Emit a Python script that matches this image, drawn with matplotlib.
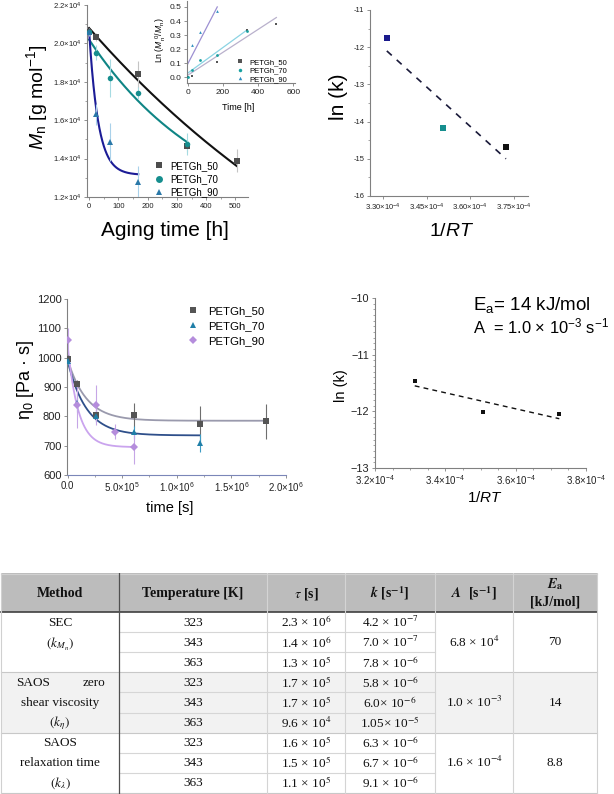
import numpy as np
import matplotlib
matplotlib.use("Agg")
import matplotlib.pyplot as plt
from matplotlib.ticker import FuncFormatter, MultipleLocator, AutoMinorLocator
from matplotlib.lines import Line2D
from matplotlib.patches import Rectangle

W, H = 614, 794

# ---- (a) Mn vs aging time ----
mn_t50 = [0, 24, 168, 336, 504]
mn_50 = [20600, 20350, 18400, 14660, 13880]
mn_e50 = [200, 200, 700, 300, 600]
mn_t70 = [0, 24, 72, 168, 336]
mn_70 = [20570, 19510, 18200, 17430, 14780]
mn_e70 = [150, 400, 1000, 300, 570]
mn_t90 = [0, 24, 72, 168]
mn_90 = [20600, 16300, 14870, 12800]
mn_e90 = [150, 550, 1000, 800]
# fit: Mn = Minf + A exp(-k t), drawn up to t_end
fit_mn50 = (0, 20800, 8.4e-4, 504)
fit_mn70 = (10450, 9750, 2.37e-3, 336)
fit_mn90 = (13150, 7550, 0.032, 168)

# inset: ln(Mn0/Mn) vs time
ins_t50 = [0, 24, 168, 336, 504]
ins_50 = [0.0, 0.01, 0.11, 0.335, 0.38]
ins_t70 = [0, 24, 72, 168, 336]
ins_70 = [0.0, 0.05, 0.12, 0.16, 0.33]
ins_t90 = [24, 72, 168]
ins_90 = [0.23, 0.32, 0.47]
# linear fits: intercept, slope, t_end
ins_fit50 = (0.015, 0.000813, 504)
ins_fit70 = (0.03, 0.000908, 336)
ins_fit90 = (0.095, 0.00241, 168)

# ---- Arrhenius plots ----
inv_rt = [3.313e-4, 3.507e-4, 3.724e-4]
lnk_sec = [-11.76, -14.16, -14.68]
lnk_sec_fit = [-12.1, -15.0]
lnk_eta = [-11.46, -12.02, -12.05]
lnk_eta_fit = [-11.55, -12.13]

# ---- (c) zero shear viscosity vs time ----
eta_t50 = [0, 86400, 259200, 604800, 1209600, 1814400]
eta_50 = [995, 910, 805, 803, 774, 783]
eta_e50 = [15, 15, 20, 43, 60, 60]
eta_t70 = [0, 86400, 259200, 604800, 1209600]
eta_70 = [990, 847, 800, 745, 710]
eta_e70 = [15, 33, 20, 22, 30]
eta_t90 = [0, 86400, 259200, 432000, 604800]
eta_90 = [1060, 840, 838, 748, 694]
eta_e90 = [40, 80, 68, 25, 55]
# fit: eta = einf + A exp(-t/tau), drawn up to t_end
fit_eta50 = (785, 210, 1.7e5, 1814400)
fit_eta70 = (735, 255, 1.7e5, 1209600)
fit_eta90 = (695, 350, 9.6e4, 604800)

# ---- table ----
tab_header = ["Method", "Temperature [K]", r"$\tau$ [s]", r"$\mathbfit{k}$ [s$^{\mathbf{-1}}$]",
              r"$\mathbfit{A}$  [s$^{\mathbf{-1}}$]", r"$\mathbfit{E}_{\mathbf{a}}$"]
tab_method = [["SEC", r"$(k_{M_n})$"],
              [("SAOS", "zero"), "shear viscosity", r"$(k_\eta)$"],
              ["SAOS", "relaxation time", r"$(k_\lambda)$"]]
tab_temp = ["323", "343", "363", "323", "343", "363", "323", "343", "363"]
tab_tau = [r"2.3 × 10$^{6}$", r"1.4 × 10$^{6}$", r"1.3 × 10$^{5}$",
           r"1.7 × 10$^{5}$", r"1.7 × 10$^{5}$", r"9.6 × 10$^{4}$",
           r"1.6 × 10$^{5}$", r"1.5 × 10$^{5}$", r"1.1 × 10$^{5}$"]
tab_k = [r"4.2 × 10$^{-7}$", r"7.0 × 10$^{-7}$", r"7.8 × 10$^{-6}$",
         r"5.8 × 10$^{-6}$", r"6.0× 10$^{-6}$", r"1.05× 10$^{-5}$",
         r"6.3 × 10$^{-6}$", r"6.7 × 10$^{-6}$", r"9.1 × 10$^{-6}$"]
tab_A = [r"6.8 × 10$^{4}$", r"1.0 × 10$^{-3}$", r"1.6 × 10$^{-4}$"]
tab_Ea = ["70", "14", "8.8"]

plt.rcParams.update({
    "font.family": "Liberation Sans",
    "mathtext.fontset": "custom",
    "mathtext.rm": "Liberation Sans",
    "mathtext.it": "Liberation Sans:italic",
    "mathtext.bf": "Liberation Sans:bold",
})

GRAY = "#808080"


def px_box(l, t, r, b):
    return [l / W, 1 - b / H, (r - l) / W, (b - t) / H]


def fig_text(x, y, s, **kw):
    fig.text(x / W, 1 - y / H, s, ha=kw.pop("ha", "center"), va=kw.pop("va", "center"), **kw)


def style_axes(ax, labelsize, spine_color=GRAY):
    for side in ("top", "right"):
        ax.spines[side].set_visible(False)
    for side in ("left", "bottom"):
        ax.spines[side].set_color(spine_color)
        ax.spines[side].set_linewidth(0.8)
    ax.tick_params(which="major", direction="out", length=2.5, width=0.6, color=GRAY,
                   labelsize=labelsize, pad=1.5, labelcolor="#222222")
    ax.tick_params(which="minor", direction="out", length=1.5, width=0.5, color=GRAY)
    ax.set_facecolor("none")


def sci_fmt(exp, dec):
    def f(v, pos):
        return rf"${v / 10 ** exp:.{dec}f}{{\times}}10^{{{exp}}}$"
    return FuncFormatter(f)


def auto_sci(v, pos):
    if abs(v) < 1:
        return "0.0"
    e = int(np.floor(np.log10(abs(v))))
    return rf"${v / 10 ** e:.1f}{{\times}}10^{{{e}}}$"


fig = plt.figure(figsize=(W / 100, H / 100), dpi=100)

# ================= panel (a) =================
ax1 = fig.add_axes(px_box(87, 5, 248, 197))
series_a = [
    (mn_t50, mn_50, mn_e50, fit_mn50, "s", "#4d4d4d", "#c4c4c4", "#111111", "PETGh_50"),
    (mn_t70, mn_70, mn_e70, fit_mn70, "o", "#168e8e", "#a6dbe2", "#0f8585", "PETGh_70"),
    (mn_t90, mn_90, mn_e90, fit_mn90, "^", "#2a78a8", "#a9d1ea", "#1c1c96", "PETGh_90"),
]
handles = []
for t, y, e, fit, mk, col, ecol, lcol, lab in series_a:
    minf, amp, k, tend = fit
    tt = np.linspace(0, tend, 300)
    ax1.plot(tt, minf + amp * np.exp(-k * tt), color=lcol, lw=1.5, zorder=2)
    ax1.errorbar(t, y, yerr=e, fmt=mk, ms=4, color=col, ecolor=ecol, elinewidth=0.8,
                 capsize=1.5, capthick=0.6, mew=0, zorder=3)
    handles.append(Line2D([], [], ls="none", marker=mk, ms=5, color=col, mew=0, label=lab))
ax1.set_xlim(-7, 543)
ax1.set_ylim(12000, 22000)
ax1.xaxis.set_major_locator(MultipleLocator(100))
ax1.xaxis.set_minor_locator(MultipleLocator(50))
ax1.yaxis.set_major_locator(MultipleLocator(2000))
ax1.yaxis.set_minor_locator(MultipleLocator(1000))
ax1.yaxis.set_major_formatter(sci_fmt(4, 1))
style_axes(ax1, 5.5)
ax1.legend(handles=handles, loc="lower left", bbox_to_anchor=(0.385, -0.028), frameon=False,
           fontsize=7, handlelength=1.0, handletextpad=0.7, labelspacing=0.35, borderpad=0)
fig_text(37, 97, r"$M_\mathrm{n}$ [g mol$^{-1}$]", fontsize=14, rotation=90)
fig_text(165, 231, "Aging time [h]", fontsize=15)

# inset
axi = fig.add_axes(px_box(187, 1, 295, 83))
series_i = [
    (ins_t50, ins_50, ins_fit50, "s", "#555555", "#b9b1cc", "PETGh_50"),
    (ins_t70, ins_70, ins_fit70, "o", "#17a0a0", "#8bd3e3", "PETGh_70"),
    (ins_t90, ins_90, ins_fit90, "^", "#2f8fc0", "#9d90d2", "PETGh_90"),
]
ih = []
for t, y, fit, mk, col, lcol, lab in series_i:
    b0, slope, tend = fit
    tt = np.array([0, tend])
    axi.plot(tt, b0 + slope * tt, color=lcol, lw=0.9, zorder=2)
    axi.plot(t, y, ls="none", marker=mk, ms=2, color=col, mew=0, zorder=3)
    ih.append(Line2D([], [], ls="none", marker=mk, ms=2.5, color=col, mew=0, label=lab))
axi.set_xlim(-4, 610)
axi.set_ylim(-0.04, 0.542)
axi.xaxis.set_major_locator(MultipleLocator(200))
axi.yaxis.set_major_locator(MultipleLocator(0.1))
style_axes(axi, 6.0)
axi.legend(handles=ih, loc="lower left", bbox_to_anchor=(0.43, -0.045), frameon=False,
           fontsize=5.5, handlelength=0.8, handletextpad=0.8, labelspacing=0.15, borderpad=0)
fig_text(161, 40, r"Ln ($M_\mathrm{n}^{\ 0}$/$M_\mathrm{n}$)", fontsize=6.2, rotation=90)
fig_text(238, 108, "Time [h]", fontsize=6.5)

# ================= panel (b) =================
ax2 = fig.add_axes(px_box(370, 10, 528, 196))
ax2.plot([inv_rt[0], inv_rt[2]], lnk_sec_fit, color="#1a1a3a", lw=1.2, dashes=(4, 4), zorder=2)
for x, y, c in zip(inv_rt, lnk_sec, ["#1a1a8c", "#168e8e", "#111111"]):
    ax2.plot(x, y, ls="none", marker="s", ms=4.5, color=c, mew=0, zorder=3)
ax2.set_xlim(3.255e-4, 3.80e-4)
ax2.set_ylim(-16, -11)
ax2.set_xticks([3.30e-4, 3.45e-4, 3.60e-4, 3.75e-4])
ax2.xaxis.set_major_formatter(sci_fmt(-4, 2))
ax2.yaxis.set_major_locator(MultipleLocator(1))
ax2.yaxis.set_minor_locator(MultipleLocator(0.5))
ax2.yaxis.set_major_formatter(FuncFormatter(lambda v, p: f"{v:.0f}"))
style_axes(ax2, 5.5)
fig_text(338, 97, "ln (k)", fontsize=15, rotation=90)
fig_text(452, 231, "1/$RT$", fontsize=14)

# ================= panel (c) =================
ax3 = fig.add_axes(px_box(67, 299, 286, 475))
series_c = [
    (eta_t50, eta_50, eta_e50, fit_eta50, "s", "#555555", "#6e6e6e", "#9a9aad", "PETGh_50"),
    (eta_t70, eta_70, eta_e70, fit_eta70, "^", "#1f7fa8", "#3e9cc4", "#2e4f8a", "PETGh_70"),
    (eta_t90, eta_90, eta_e90, fit_eta90, "D", "#b58ddc", "#c6a6e6", "#caa4ee", "PETGh_90"),
]
h3 = []
for t, y, e, fit, mk, col, ecol, lcol, lab in series_c:
    einf, amp, tau, tend = fit
    tt = np.linspace(0, tend, 300)
    ax3.plot(tt, einf + amp * np.exp(-tt / tau), color=lcol, lw=1.3, zorder=2)
    ax3.errorbar(t, y, yerr=e, fmt=mk, ms=4 if mk != "D" else 3.6, color=col, ecolor=ecol,
                 elinewidth=0.8, capsize=1.8, capthick=0.7, mew=0, zorder=3)
    h3.append(Line2D([], [], ls="none", marker=mk, ms=5 if mk != "D" else 4.5, color=col, mew=0, label=lab))
ax3.set_xlim(-5e3, 2.0e6)
ax3.set_ylim(600, 1200)
ax3.set_xticks([0, 5e5, 1e6, 1.5e6, 2e6])
ax3.xaxis.set_minor_locator(MultipleLocator(2.5e5))
ax3.yaxis.set_major_locator(MultipleLocator(100))
ax3.xaxis.set_major_formatter(FuncFormatter(auto_sci))
style_axes(ax3, 8)
ax3.tick_params(axis="x", labelsize=7)
ax3.spines["bottom"].set_color("#7b86b8")
ax3.legend(handles=h3, loc="upper left", bbox_to_anchor=(0.523, 0.99), frameon=False,
           fontsize=8.2, handlelength=1.0, handletextpad=0.8, labelspacing=0.42, borderpad=0)
fig_text(25, 380, r"η$_0$ [Pa · s]", fontsize=13, rotation=90)
fig_text(170, 508, "time [s]", fontsize=10.5)

# ================= panel (d) =================
ax4 = fig.add_axes(px_box(375, 298, 586, 468))
ax4.plot([inv_rt[0], inv_rt[2]], lnk_eta_fit, color="#111111", lw=1.0, dashes=(3.5, 3), zorder=2)
ax4.plot(inv_rt, lnk_eta, ls="none", marker="s", ms=3.2, color="#111111", mew=0, zorder=3)
ax4.set_xlim(3.2e-4, 3.8e-4)
ax4.set_ylim(-13, -10)
ax4.set_xticks([3.2e-4, 3.4e-4, 3.6e-4, 3.8e-4])
ax4.xaxis.set_minor_locator(AutoMinorLocator(4))
ax4.yaxis.set_major_locator(MultipleLocator(1))
ax4.yaxis.set_minor_locator(AutoMinorLocator(10))
ax4.xaxis.set_major_formatter(sci_fmt(-4, 1))
ax4.yaxis.set_major_formatter(FuncFormatter(lambda v, p: f"{v:.0f}".replace("-", "\u2212")))
style_axes(ax4, 7.8)
ax4.tick_params(axis="x", labelsize=7)
fig_text(473, 305, r"E$_\mathrm{a}$= 14 kJ/mol", fontsize=13.5, ha="left")
fig_text(473, 326, r"A  = 1.0 × 10$^{-3}$ s$^{-1}$", fontsize=11.9, ha="left")
fig_text(341, 386, "ln (k)", fontsize=10.5, rotation=90)
fig_text(485, 498, "1/$RT$", fontsize=11)

# ================= table =================
axt = fig.add_axes(px_box(0, 573, 614, 794))
axt.set_xlim(0, W)
axt.set_ylim(221, 0)
axt.axis("off")
cols = [1, 119, 267, 345, 435, 513, 597]
hdr_h = 39
row_h = (220 - hdr_h) / 9
row_top = [hdr_h + i * row_h for i in range(10)]
serif = dict(fontfamily="Liberation Serif", math_fontfamily="stix", color="#111111")

axt.add_patch(Rectangle((cols[0], 0), cols[-1] - cols[0], hdr_h, color="#bcbcbc", lw=0))
for g, bg in enumerate(["white", "#f2f2f2", "white"]):
    axt.add_patch(Rectangle((cols[0], row_top[3 * g]), cols[-1] - cols[0], 3 * row_h, color=bg, lw=0))
# lines
for i in range(1, 10):
    y = row_top[i]
    if i % 3 == 0:
        axt.plot([cols[0], cols[-1]], [y, y], color="#c8c8c8", lw=0.8)
    else:
        axt.plot([cols[1], cols[4]], [y, y], color="#d6d6d6", lw=0.8)
axt.plot([cols[0], cols[-1]], [hdr_h, hdr_h], color="#404040", lw=1.2)
axt.plot([cols[0], cols[-1]], [0.5, 0.5], color="#d0d0d0", lw=0.8)
axt.plot([cols[1], cols[1]], [0, row_top[-1]], color="#505050", lw=0.9)
for c in cols[2:-1]:
    axt.plot([c, c], [0, row_top[-1]], color="#d4d4d4", lw=0.8)
axt.plot([cols[0], cols[0]], [0, row_top[-1]], color="#d0d0d0", lw=0.8)
axt.plot([cols[-1], cols[-1]], [0, row_top[-1]], color="#d0d0d0", lw=0.8)

# header text
centers = [(cols[i] + cols[i + 1]) / 2 for i in range(6)]
for i, s in enumerate(tab_header[:5]):
    axt.text(centers[i], hdr_h / 2 + 1, s, ha="center", va="center", fontsize=10, fontweight="bold", **serif)
axt.text(centers[5], hdr_h / 2 - 8, tab_header[5], ha="center", va="center", fontsize=10, fontweight="bold", **serif)
axt.text(centers[5], hdr_h / 2 + 9, "[kJ/mol]", ha="center", va="center", fontsize=10, fontweight="bold", **serif)

# body
for i in range(9):
    yc = row_top[i] + row_h / 2 + 0.5
    axt.text(centers[1], yc, tab_temp[i], ha="center", va="center", fontsize=9.5, **serif)
    axt.text(centers[2], yc, tab_tau[i], ha="center", va="center", fontsize=9.5, **serif)
    axt.text(centers[3], yc, tab_k[i], ha="center", va="center", fontsize=9.5, **serif)
for g in range(3):
    ymid = row_top[3 * g] + 1.5 * row_h
    axt.text(centers[4], ymid, tab_A[g], ha="center", va="center", fontsize=9.5, **serif)
    axt.text(centers[5], ymid, tab_Ea[g], ha="center", va="center", fontsize=9.5, **serif)
    lines = tab_method[g]
    for j, ln in enumerate(lines):
        if len(lines) == 2:
            yc = row_top[3 * g] + row_h * (0.5 + 1.1 * j) + 0.5
        else:
            yc = row_top[3 * g + j] + row_h / 2 + 0.5
        if isinstance(ln, tuple):
            axt.text(16, yc, ln[0], ha="left", va="center", fontsize=9.5, **serif)
            axt.text(105, yc, ln[1], ha="right", va="center", fontsize=9.5, **serif)
        else:
            axt.text(centers[0], yc, ln, ha="center", va="center", fontsize=9.5, **serif)

fig.savefig("out.png", dpi=100)
